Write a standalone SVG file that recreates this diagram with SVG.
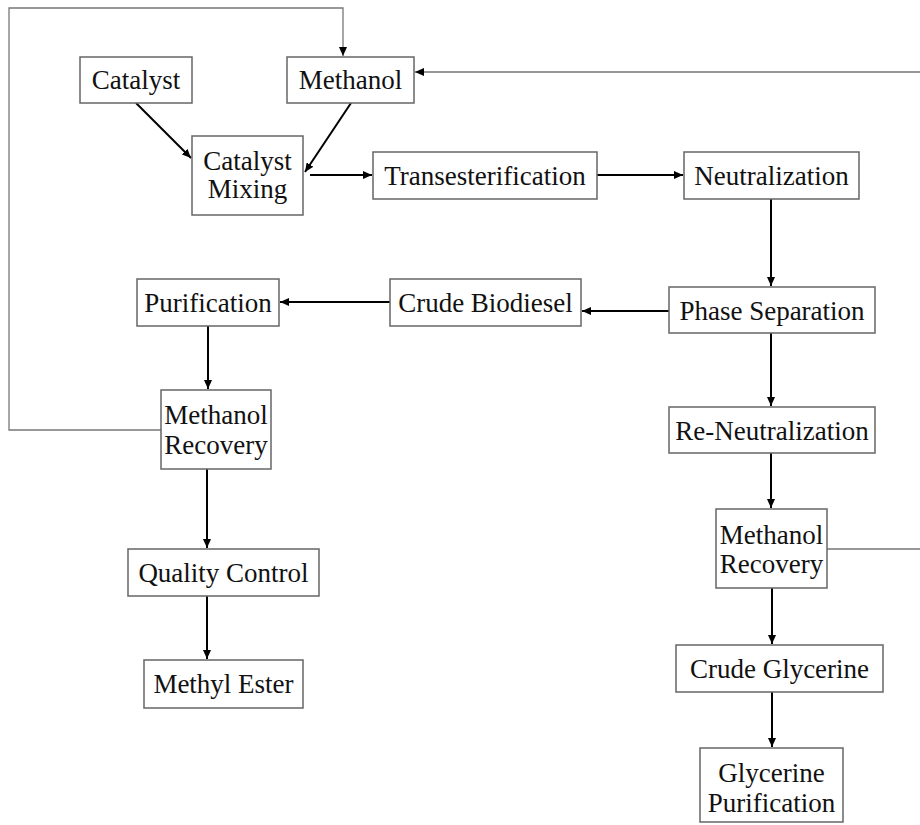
<svg xmlns="http://www.w3.org/2000/svg" width="920" height="825" viewBox="0 0 920 825">
<style>
.box{fill:#fff;stroke:#666;stroke-width:1.5}
.t{font-family:"Liberation Serif","Times New Roman",serif;font-size:27px;fill:#111;text-anchor:middle}
.arr{fill:none;stroke:#000;stroke-width:2;marker-end:url(#ah)}
.loop{fill:none;stroke:#777;stroke-width:1.3;marker-end:url(#ah)}
</style>
<defs>
<marker id="ah" markerUnits="userSpaceOnUse" markerWidth="10" markerHeight="8" refX="9" refY="4" orient="auto">
<path d="M0,0 L9,4 L0,8 z" fill="#000"/>
</marker>
</defs>
<rect width="920" height="825" fill="#fff"/>
<g id="connectors">
<path class="loop" d="M161,430 H9 V8 H343 V56"/>
<path class="loop" d="M827,549 H922 V72 H415"/>
<path class="arr" d="M136,103 L191,158"/>
<path class="arr" d="M351,103 L305,172"/>
<path class="arr" d="M310,175 H372"/>
<path class="arr" d="M597,175 H683"/>
<path class="arr" d="M771,199 V286"/>
<path class="arr" d="M669,311 H582"/>
<path class="arr" d="M390,302 H280"/>
<path class="arr" d="M208,326 V389"/>
<path class="arr" d="M207,469 V548"/>
<path class="arr" d="M207,596 V659"/>
<path class="arr" d="M771,333 V406"/>
<path class="arr" d="M771,453 V508"/>
<path class="arr" d="M772,588 V644"/>
<path class="arr" d="M772,692 V747"/>
</g>
<g id="catalyst"><rect class="box" x="80" y="57" width="112" height="46"/><text class="t" x="136" y="89">Catalyst</text></g>
<g id="methanol"><rect class="box" x="287" y="57" width="127" height="46"/><text class="t" x="350.5" y="89">Methanol</text></g>
<g id="catalyst-mixing"><rect class="box" x="192" y="136" width="111" height="79"/><text class="t" x="247.5" y="170">Catalyst</text><text class="t" x="247.5" y="198">Mixing</text></g>
<g id="transesterification"><rect class="box" x="373" y="152" width="224" height="47"/><text class="t" x="485" y="185">Transesterification</text></g>
<g id="neutralization"><rect class="box" x="684" y="152" width="175" height="47"/><text class="t" x="771.5" y="185">Neutralization</text></g>
<g id="phase-separation"><rect class="box" x="669" y="287" width="206" height="46"/><text class="t" x="772" y="320">Phase Separation</text></g>
<g id="crude-biodiesel"><rect class="box" x="390" y="279" width="191" height="47"/><text class="t" x="485.5" y="312">Crude Biodiesel</text></g>
<g id="purification"><rect class="box" x="137" y="279" width="142" height="47"/><text class="t" x="208" y="312">Purification</text></g>
<g id="methanol-recovery-1"><rect class="box" x="161" y="390" width="110" height="79"/><text class="t" x="216" y="424">Methanol</text><text class="t" x="216" y="454">Recovery</text></g>
<g id="quality-control"><rect class="box" x="128" y="549" width="191" height="47"/><text class="t" x="223.5" y="582">Quality Control</text></g>
<g id="methyl-ester"><rect class="box" x="144" y="660" width="159" height="48"/><text class="t" x="223.5" y="693">Methyl Ester</text></g>
<g id="re-neutralization"><rect class="box" x="669" y="407" width="206" height="46"/><text class="t" x="772" y="440">Re-Neutralization</text></g>
<g id="methanol-recovery-2"><rect class="box" x="716" y="509" width="111" height="79"/><text class="t" x="771.5" y="544">Methanol</text><text class="t" x="771.5" y="573">Recovery</text></g>
<g id="crude-glycerine"><rect class="box" x="676" y="645" width="207" height="47"/><text class="t" x="779.5" y="678">Crude Glycerine</text></g>
<g id="glycerine-purification"><rect class="box" x="700" y="748" width="143" height="74"/><text class="t" x="771.5" y="782">Glycerine</text><text class="t" x="771.5" y="812">Purification</text></g>
</svg>
